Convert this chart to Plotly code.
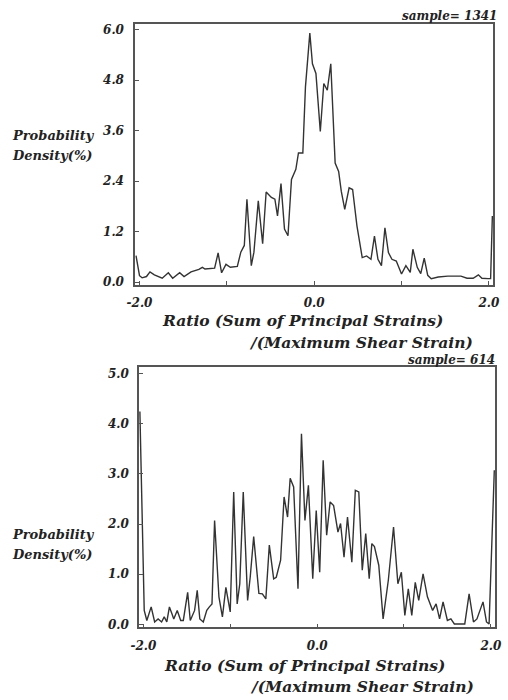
import plotly.graph_objects as go

# ---- data: top panel (sample = 1341) ----
top_x = [-2.04, -2.00, -1.97, -1.92, -1.88, -1.83, -1.74, -1.67, -1.62, -1.54,
         -1.49, -1.41, -1.32, -1.28, -1.25, -1.14, -1.10, -1.06, -1.01, -0.96,
         -0.88, -0.84, -0.80, -0.77, -0.72, -0.69, -0.64, -0.59, -0.55, -0.49,
         -0.45, -0.42, -0.38, -0.34, -0.30, -0.26, -0.21, -0.18, -0.13, -0.10,
         -0.05, -0.02, 0.02, 0.07, 0.11, 0.15, 0.19, 0.24, 0.28, 0.31,
         0.35, 0.40, 0.44, 0.49, 0.55, 0.60, 0.65, 0.69, 0.73, 0.77,
         0.81, 0.85, 0.89, 0.94, 1.00, 1.05, 1.10, 1.13, 1.18, 1.22,
         1.26, 1.30, 1.34, 1.42, 1.53, 1.68, 1.75, 1.82, 1.88, 1.92,
         1.99, 2.02, 2.04]
top_y = [0.63, 0.15, 0.10, 0.13, 0.24, 0.17, 0.09, 0.22, 0.09, 0.22,
         0.13, 0.24, 0.30, 0.35, 0.31, 0.33, 0.69, 0.22, 0.42, 0.35,
         0.37, 0.71, 0.87, 1.97, 0.39, 0.71, 1.93, 0.91, 2.14, 2.01,
         1.97, 1.57, 2.34, 1.26, 1.10, 2.44, 2.68, 3.07, 3.07, 4.64,
         5.92, 5.19, 4.96, 3.58, 4.72, 4.56, 5.19, 2.83, 2.63, 2.16,
         1.73, 2.24, 2.20, 1.33, 0.58, 0.62, 0.54, 1.09, 0.54, 0.39,
         1.29, 0.70, 0.54, 0.50, 0.19, 0.39, 0.23, 0.78, 0.35, 0.20,
         0.57, 0.16, 0.08, 0.12, 0.14, 0.14, 0.09, 0.09, 0.17, 0.09,
         0.08, 0.08, 1.57]

# ---- data: bottom panel (sample = 614) ----
bot_x = [-2.04, -1.99, -1.96, -1.91, -1.87, -1.83, -1.79, -1.76, -1.73, -1.70,
         -1.67, -1.65, -1.61, -1.57, -1.54, -1.49, -1.46, -1.41, -1.38, -1.35,
         -1.31, -1.27, -1.24, -1.21, -1.18, -1.13, -1.09, -1.05, -1.00, -0.96,
         -0.92, -0.89, -0.85, -0.80, -0.77, -0.73, -0.67, -0.63, -0.59, -0.55,
         -0.50, -0.47, -0.42, -0.38, -0.34, -0.31, -0.27, -0.22, -0.18, -0.14,
         -0.10, -0.05, -0.01, 0.03, 0.07, 0.11, 0.15, 0.19, 0.24, 0.27,
         0.31, 0.35, 0.40, 0.44, 0.48, 0.52, 0.56, 0.60, 0.63, 0.66,
         0.71, 0.76, 0.82, 0.88, 0.93, 0.97, 1.01, 1.05, 1.09, 1.13,
         1.17, 1.22, 1.27, 1.33, 1.37, 1.41, 1.45, 1.50, 1.54, 1.58,
         1.70, 1.75, 1.80, 1.84, 1.91, 1.95, 1.98, 2.04]
bot_y = [4.24, 0.28, 0.08, 0.35, 0.05, 0.11, 0.05, 0.15, 0.05, 0.35,
         0.21, 0.11, 0.28, 0.08, 0.08, 0.64, 0.08, 0.28, 0.68, 0.11,
         0.05, 0.28, 0.35, 0.41, 2.07, 0.55, 0.15, 0.74, 0.25, 2.64,
         0.41, 0.81, 2.64, 0.48, 0.94, 1.75, 0.62, 0.61, 0.51, 1.58,
         0.91, 0.94, 1.28, 2.54, 2.14, 2.91, 2.74, 0.71, 3.80, 2.07,
         2.77, 0.91, 2.27, 1.04, 3.27, 1.78, 2.44, 2.37, 1.84, 2.01,
         1.34, 2.14, 1.24, 2.67, 2.64, 1.08, 1.81, 0.91, 1.61, 1.55,
         1.18, 0.11, 0.88, 1.94, 0.81, 1.04, 0.18, 0.71, 0.18, 0.84,
         0.48, 1.01, 0.55, 0.28, 0.41, 0.11, 0.45, 0.08, 0.11, 0.01,
         0.01, 0.61, 0.05, 0.11, 0.45, 0.05, 0.01, 3.07]

top_yticks = [0.0, 1.2, 2.4, 3.6, 4.8, 6.0]
bot_yticks = [0.0, 1.0, 2.0, 3.0, 4.0, 5.0]
x_ticks = [-2, -1, 0, 1, 2]
x_ticktext = ["-2.0", "", "0.0", "", "2.0"]

W, H = 508, 700
FONT = "DejaVu Serif"
TXT = "#222222"
LINE = "#333333"
FRAME = "#555555"


def px(x):
    return x / W


def py(y):
    return 1 - y / H


fig = go.Figure()
fig.add_trace(go.Scatter(x=top_x, y=top_y, mode="lines",
                         line=dict(color=LINE, width=1.4),
                         xaxis="x", yaxis="y", showlegend=False))
fig.add_trace(go.Scatter(x=bot_x, y=bot_y, mode="lines",
                         line=dict(color=LINE, width=1.4),
                         xaxis="x2", yaxis="y2", showlegend=False))

tickfont = dict(family=FONT, size=12, color=TXT, style="italic", weight="bold")
axis_common = dict(showline=True, mirror=True, linecolor=FRAME, linewidth=1.5,
                   showgrid=False, zeroline=False, ticks="inside", ticklen=4,
                   tickcolor=FRAME, tickwidth=1, tickfont=tickfont)

fig.update_layout(
    width=W, height=H, autosize=False,
    margin=dict(l=0, r=0, t=0, b=0),
    paper_bgcolor="white", plot_bgcolor="white",
    xaxis=dict(domain=[px(131), px(500)], range=[-2.05, 2.05], anchor="y",
               tickvals=x_ticks, ticktext=x_ticktext, ticklabelstandoff=6,
               **axis_common),
    yaxis=dict(domain=[py(286), py(23)], range=[-0.07, 6.14], anchor="x",
               tickvals=top_yticks, tickformat=".1f", ticklabelstandoff=7,
               **axis_common),
    xaxis2=dict(domain=[px(135), px(502)], range=[-2.05, 2.05], anchor="y2",
                tickvals=x_ticks, ticktext=x_ticktext, ticklabelstandoff=6,
                **axis_common),
    yaxis2=dict(domain=[py(631), py(369)], range=[-0.06, 5.12], anchor="x2",
                tickvals=bot_yticks, tickformat=".1f", ticklabelstandoff=6,
                **axis_common),
)

label_font = dict(family=FONT, size=13, color=TXT, style="italic", weight="bold")
title_font = dict(family=FONT, size=15.5, color=TXT, style="italic", weight="bold")
sample_font = dict(family=FONT, size=12, color=TXT, style="italic", weight="bold")


def ann(text, x, y, font, xanchor="left"):
    fig.add_annotation(text=text, x=px(x), y=py(y), xref="paper", yref="paper",
                       xanchor=xanchor, yanchor="middle", showarrow=False,
                       font=font)


# top panel texts
ann("sample= 1341", 506, 15, sample_font, "right")
ann("Probability", 2, 135, label_font)
ann("Density(%)", 2, 156, label_font)
ann("Ratio (Sum of Principal Strains)", 303, 322, title_font, "center")
ann("/(Maximum Shear Strain)", 481, 344, title_font, "right")

# bottom panel texts
ann("sample= 614", 504, 362, sample_font, "right")
ann("Probability", 2, 537, label_font)
ann("Density(%)", 2, 557, label_font)
ann("Ratio (Sum of Principal Strains)", 306, 669, title_font, "center")
ann("/(Maximum Shear Strain)", 482, 690, title_font, "right")

fig.write_html("out.html",
               config={"displayModeBar": False},
               post_script="document.body.style.margin='0';"
                           "document.body.style.overflow='hidden';")
